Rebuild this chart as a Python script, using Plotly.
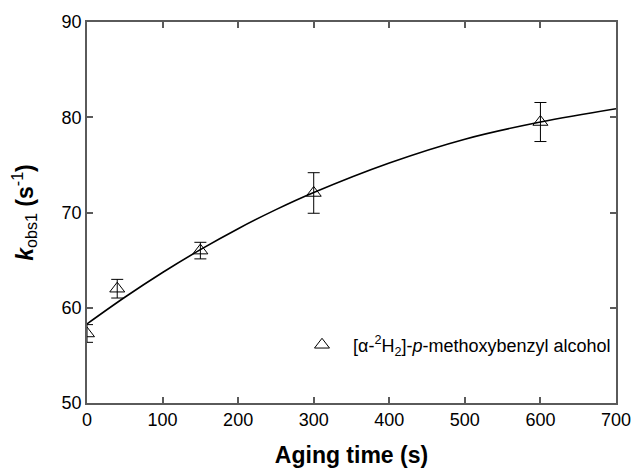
import plotly.graph_objects as go

# measured data
aging_time = [0, 40, 150, 300, 600]
kobs1 = [57.3, 62.0, 66.0, 72.05, 79.5]
kobs1_err = [0.93, 0.98, 0.87, 2.13, 2.05]

# fitted curve
fit_time = [0, 50, 100, 150, 200, 250, 300, 400, 500, 600, 700]
fit_k = [58.3, 61.1, 63.7, 66.1, 68.3, 70.3, 72.1, 75.2, 77.7, 79.5, 80.9]

x_ticks = [0, 100, 200, 300, 400, 500, 600, 700]
y_ticks = [50, 60, 70, 80, 90]

font_family = "Liberation Sans, Arial, sans-serif"
axis_color = "#5a5a5a"

fig = go.Figure()
fig.add_trace(go.Scatter(
    x=fit_time, y=fit_k, mode="lines", line=dict(color="black", width=1.6, shape="spline"),
    showlegend=False, hoverinfo="skip"))
fig.add_trace(go.Scatter(
    x=aging_time, y=kobs1, mode="markers",
    marker=dict(symbol="triangle-up-open", size=13, color="black", line=dict(width=1)),
    error_y=dict(type="data", array=kobs1_err, visible=True, color="black", thickness=1, width=6),
    name="[α-<sup>2</sup>H<sub>2</sub>]-<i>p</i>-methoxybenzyl alcohol"))

axis_common = dict(showline=True, linecolor=axis_color, linewidth=1.5, mirror="ticks",
                   ticks="inside", ticklen=6, tickcolor=axis_color, tickwidth=1.5,
                   showgrid=False, zeroline=False, automargin=False,
                   tickfont=dict(family=font_family, size=18, color="black"))

fig.update_layout(
    width=632, height=473, autosize=False,
    margin=dict(l=87, r=16, t=22, b=70, pad=0),
    paper_bgcolor="white", plot_bgcolor="white",
    font=dict(family=font_family, color="black"),
    xaxis=dict(range=[0, 700], tickvals=x_ticks,
               title=dict(text="<b>Aging time (s)</b>", font=dict(size=23), standoff=18),
               **axis_common),
    yaxis=dict(range=[50, 90], tickvals=y_ticks,
               title=dict(text="<b><i>k</i></b><sub>obs1</sub><b> (s</b><sup>-1</sup><b>)</b>",
                          font=dict(size=23), standoff=22),
               **axis_common),
    legend=dict(x=1.0, y=0.152, xanchor="right", yanchor="middle", bgcolor="rgba(0,0,0,0)",
                itemwidth=52,
                font=dict(family=font_family, size=18, color="black")),
)

fig.write_html("out.html")
